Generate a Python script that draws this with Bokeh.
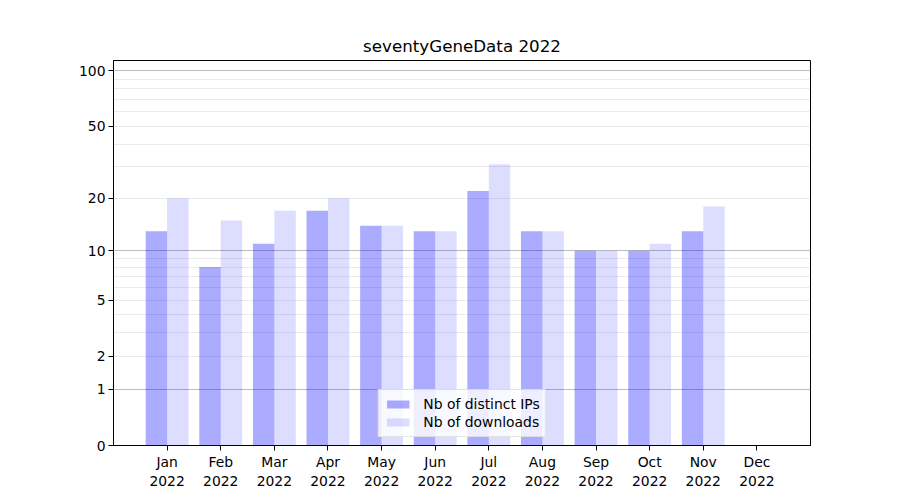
from bokeh.plotting import figure
from bokeh.models import FixedTicker, Range1d, ColumnDataSource
from bokeh.embed import file_html
from bokeh.resources import INLINE

# ---- data ----
months = ["Jan", "Feb", "Mar", "Apr", "May", "Jun", "Jul", "Aug", "Sep", "Oct", "Nov", "Dec"]
year = "2022"
distinct_ips = [13, 8, 11, 17, 14, 13, 22, 13, 10, 10, 13, 0]
downloads = [20, 15, 17, 20, 14, 13, 31, 13, 10, 11, 18, 0]
y_tick_values = [0, 1, 2, 5, 10, 20, 50, 100]
y_major_grid = [1, 10, 100]
y_minor_grid = [2, 3, 4, 5, 6, 7, 8, 9, 20, 30, 40, 50, 60, 70, 80, 90]
title = "seventyGeneData 2022"

FONT = "DejaVu Sans"
BAR_W = 0.4

# log10(v + 1) scale: plot on a log axis with an offset of 1
xs = list(range(len(months)))
src = ColumnDataSource(dict(
    x_ip=[i - BAR_W / 2 for i in xs],
    x_dl=[i + BAR_W / 2 for i in xs],
    ip_top=[v + 1 for v in distinct_ips],
    dl_top=[v + 1 for v in downloads],
))

p = figure(width=892, height=492, x_range=Range1d(-1, 12), y_range=Range1d(1, 114.7),
           y_axis_type="log", output_backend="svg", toolbar_location=None, title=title,
           min_border_left=113, min_border_right=82, min_border_top=60, min_border_bottom=47)

p.vbar(x="x_ip", top="ip_top", bottom=1, width=BAR_W, source=src,
       fill_color="#0000ff", fill_alpha=0.33, line_color=None, legend_label="Nb of distinct IPs")
p.vbar(x="x_dl", top="dl_top", bottom=1, width=BAR_W, source=src,
       fill_color="#0000ff", fill_alpha=0.135, line_color=None, legend_label="Nb of downloads")

# title
p.title.align = "center"
p.title.text_font = FONT
p.title.text_font_size = "16.7px"
p.title.text_font_style = "normal"
p.title.text_color = "black"

# frame
p.outline_line_color = "black"
p.outline_line_alpha = 1
p.outline_line_width = 1

# x axis
p.xaxis.ticker = FixedTicker(ticks=xs)
p.xaxis.major_label_overrides = {i: f"{m}\n{year}" for i, m in zip(xs, months)}
# y axis
yt = [v + 1 for v in y_tick_values]
p.yaxis.ticker = FixedTicker(ticks=yt)
p.yaxis.major_label_overrides = {v + 1: str(v) for v in y_tick_values}

for ax in (p.xaxis[0], p.yaxis[0]):
    ax.axis_line_color = "black"
    ax.axis_line_width = 1
    ax.major_tick_line_color = "black"
    ax.major_tick_out = 5
    ax.major_tick_in = 0
    ax.minor_tick_out = 0
    ax.minor_tick_in = 0
    ax.major_label_text_font = FONT
    ax.major_label_text_font_size = "13.9px"
    ax.major_label_text_color = "black"
    ax.major_label_standoff = 3

# grids
p.xgrid.visible = False
p.ygrid.ticker = FixedTicker(ticks=[v + 1 for v in y_major_grid],
                             minor_ticks=[v + 1 for v in y_minor_grid])
p.ygrid.grid_line_color = "#b0b0b0"
p.ygrid.grid_line_alpha = 0.85
p.ygrid.minor_grid_line_color = "#b0b0b0"
p.ygrid.minor_grid_line_alpha = 0.25

# legend
lg = p.legend[0]
lg.location = "bottom_center"
lg.margin = 8
lg.padding = 5
lg.spacing = 0
lg.glyph_width = 28
lg.glyph_height = 10
lg.label_height = 18
lg.label_standoff = 12
lg.label_text_font = FONT
lg.label_text_font_size = "13.9px"
lg.label_text_color = "black"
lg.border_line_color = "#cccccc"
lg.background_fill_color = "white"
lg.background_fill_alpha = 0.8

open("out.html", "w").write(file_html(p, INLINE))
